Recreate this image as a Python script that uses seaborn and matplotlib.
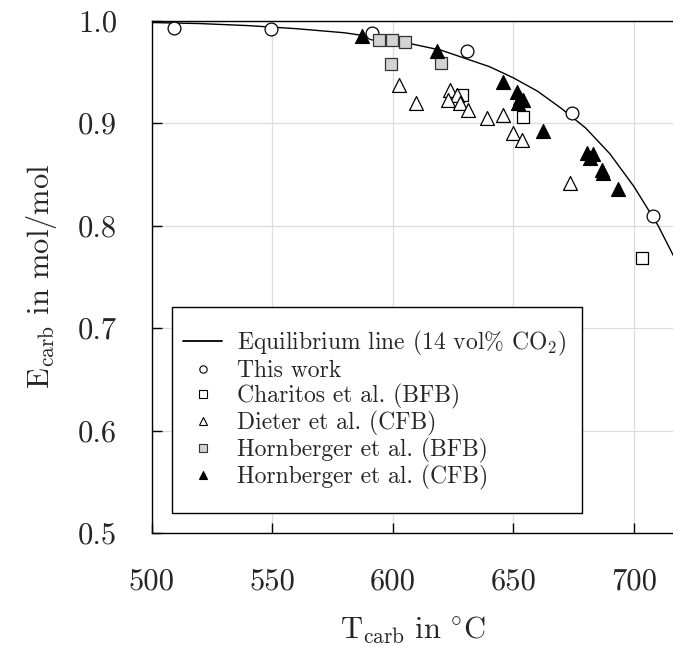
import matplotlib
matplotlib.use("Agg")
import matplotlib.pyplot as plt
import seaborn as sns
import pandas as pd
from matplotlib.lines import Line2D
from matplotlib.patches import Rectangle
from matplotlib.legend_handler import HandlerLine2D

# ---------------- data ----------------
eq_T = [500, 520, 540, 560, 580, 600, 620, 640, 650, 660, 670, 680, 690, 700, 710, 718]
eq_E = [0.998, 0.997, 0.995, 0.992, 0.988, 0.981, 0.971, 0.955, 0.944, 0.931, 0.914, 0.895, 0.870, 0.838, 0.800, 0.763]

this_T = [509.1, 549.3, 591.2, 630.6, 674.4, 708.0]
this_E = [0.993, 0.992, 0.988, 0.970, 0.910, 0.809]

char_T = [628.5, 654.1, 703.2]
char_E = [0.927, 0.906, 0.768]

dieter_T = [602.6, 609.5, 623.7, 626.4, 622.9, 627.8, 631.2, 638.9, 645.5, 649.9, 653.4, 673.4]
dieter_E = [0.937, 0.920, 0.932, 0.927, 0.922, 0.920, 0.913, 0.905, 0.908, 0.890, 0.883, 0.841]

hbfb_T = [594.3, 599.5, 605.0, 599.0, 619.8]
hbfb_E = [0.981, 0.981, 0.979, 0.958, 0.959]

hcfb_T = [587.0, 618.4, 645.8, 651.6, 652.7, 654.1, 652.0, 662.1, 680.4, 683.1, 681.7, 686.6, 687.3, 693.5]
hcfb_E = [0.985, 0.970, 0.940, 0.930, 0.924, 0.922, 0.920, 0.892, 0.871, 0.870, 0.866, 0.854, 0.851, 0.836]

labels = ["Equilibrium line (14 vol% CO$_2$)", "This work", "Charitos et al. (BFB)",
          "Dieter et al. (CFB)", "Hornberger et al. (BFB)", "Hornberger et al. (CFB)"]
x_ticks = [500, 550, 600, 650, 700]
y_ticks = [0.5, 0.6, 0.7, 0.8, 0.9, 1.0]

# ---------------- style ----------------
sns.set_theme(style="white")
plt.rcParams["font.family"] = "serif"
plt.rcParams["font.serif"] = ["cmr10"]
plt.rcParams["mathtext.fontset"] = "cm"
plt.rcParams["axes.formatter.use_mathtext"] = True
plt.rcParams["xtick.bottom"] = True
plt.rcParams["ytick.left"] = True
plt.rcParams["xtick.major.size"] = 7
plt.rcParams["ytick.major.size"] = 7
plt.rcParams["xtick.direction"] = "in"
plt.rcParams["ytick.direction"] = "in"

fig = plt.figure(figsize=(6.73, 6.48), dpi=100)
ax = fig.add_axes([152/673, 1 - 533/648, 1 - 152/673, (533 - 20.5)/648])

ax.set_xlim(500, 716.2)
ax.set_ylim(0.5, 1.0)
ax.set_xticks(x_ticks)
ax.set_yticks(y_ticks)
ax.set_xticklabels([str(t) for t in x_ticks])
ax.set_yticklabels([f"{t:.1f}" for t in y_ticks])
ax.grid(True, color="#dcdcdc", linewidth=0.9)
ax.set_axisbelow(True)
for s in ["left", "bottom", "top"]:
    ax.spines[s].set_color("black")
    ax.spines[s].set_linewidth(1.0)
ax.spines["right"].set_visible(False)
ax.xaxis.set_ticks_position("bottom")
ax.yaxis.set_ticks_position("left")
ax.tick_params(axis="both", which="major", direction="in", length=7, width=1.0, color="black",
               labelsize=22, pad=25, left=True, bottom=True)

ms_edge = 0.9
sns.lineplot(x=eq_T, y=eq_E, ax=ax, color="black", linewidth=1.0, zorder=2, sort=True)
sns.scatterplot(x=this_T, y=this_E, ax=ax, marker="o", s=85, facecolor="white",
                edgecolor="black", linewidth=ms_edge, zorder=3)
sns.scatterplot(x=char_T, y=char_E, ax=ax, marker="s", s=80, facecolor="white",
                edgecolor="black", linewidth=ms_edge, zorder=3)
sns.scatterplot(x=dieter_T, y=dieter_E, ax=ax, marker="^", s=100, facecolor="white",
                edgecolor="black", linewidth=ms_edge, zorder=3)
sns.scatterplot(x=hbfb_T, y=hbfb_E, ax=ax, marker="s", s=80, facecolor="#d3d3d3",
                edgecolor="#333333", linewidth=ms_edge, zorder=3)
sns.scatterplot(x=hcfb_T, y=hcfb_E, ax=ax, marker="^", s=100, facecolor="black",
                edgecolor="black", linewidth=ms_edge, zorder=3)

ax.set_xlabel(r"$\mathrm{T}_\mathrm{carb}\ \mathrm{in}\ {}^{\circ}\mathrm{C}$", fontsize=22, labelpad=14)
ax.set_ylabel(r"$\mathrm{E}_\mathrm{carb}$ in mol/mol", fontsize=22, labelpad=14)

# legend frame
W = 673 - 152
H = 533 - 20.5
rect = Rectangle(((172 - 152)/W, (533 - 513)/H), (582 - 172)/W, (513 - 307)/H,
                 transform=ax.transAxes, facecolor="white", edgecolor="black",
                 linewidth=1.0, zorder=6)
ax.add_patch(rect)

class RightMarker(HandlerLine2D):
    def get_xdata(self, legend, xdescent, ydescent, width, height, fontsize):
        xdata, _ = super().get_xdata(legend, xdescent, ydescent, width, height, fontsize)
        return xdata, [-xdescent + 0.8 * width]

lms = 5.3
handles = [
    Line2D([], [], color="black", linewidth=1.3),
    Line2D([], [], linestyle="none", marker="o", markersize=lms, markerfacecolor="white", markeredgecolor="black", markeredgewidth=0.8),
    Line2D([], [], linestyle="none", marker="s", markersize=lms, markerfacecolor="white", markeredgecolor="black", markeredgewidth=0.8),
    Line2D([], [], linestyle="none", marker="^", markersize=lms + 0.5, markerfacecolor="white", markeredgecolor="black", markeredgewidth=0.8),
    Line2D([], [], linestyle="none", marker="s", markersize=lms, markerfacecolor="#d3d3d3", markeredgecolor="#333333", markeredgewidth=0.8),
    Line2D([], [], linestyle="none", marker="^", markersize=lms + 0.5, markerfacecolor="black", markeredgecolor="black", markeredgewidth=0.8),
]
leg = ax.legend(handles, labels, loc="upper left",
                bbox_to_anchor=((183 - 152)/W, (533 - 329)/H),
                frameon=False, fontsize=17, borderpad=0, borderaxespad=0,
                handlelength=1.67, handletextpad=0.6, labelspacing=0.08,
                handler_map={h: RightMarker() for h in handles[1:]})
leg.set_zorder(7)

fig.savefig("out.png", dpi=100)
